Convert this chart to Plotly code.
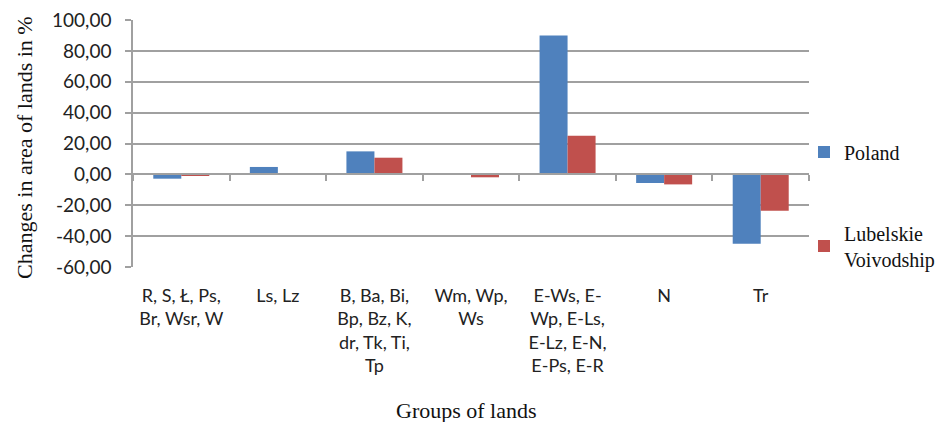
import plotly.graph_objects as go

categories = [
    "R, S, Ł, Ps,<br>Br, Wsr, W",
    "Ls, Lz",
    "B, Ba, Bi,<br>Bp, Bz, K,<br>dr, Tk, Ti,<br>Tp",
    "Wm, Wp,<br>Ws",
    "E-Ws, E-<br>Wp, E-Ls,<br>E-Lz, E-N,<br>E-Ps, E-R",
    "N",
    "Tr",
]
poland = [-2.8, 4.8, 14.9, 0.2, 90.0, -5.6, -44.9]
lubelskie = [-0.8, 0.8, 10.8, -1.9, 25.0, -6.5, -23.5]
series_names = ["Poland", "Lubelskie<br>Voivodship"]
y_ticks = [-60, -40, -20, 0, 20, 40, 60, 80, 100]
y_ticktext = [f"{v:.2f}".replace(".", ",") for v in y_ticks]

BLUE = "#4F81BD"
RED = "#C0504D"
GRID = "#A0A0A0"
YMIN, YMAX = -60, 100

xs = list(range(len(categories)))
bounds = [i - 0.5 for i in range(len(categories) + 1)]

fig = go.Figure()
fig.add_trace(go.Bar(x=xs, y=poland, name=series_names[0], marker_color=BLUE,
                     marker_line_width=0, legend="legend"))
fig.add_trace(go.Bar(x=xs, y=lubelskie, name=series_names[1], marker_color=RED,
                     marker_line_width=0, legend="legend2"))
# helper trace so the zero-line category axis is drawn
fig.add_trace(go.Scatter(x=[None], y=[None], xaxis="x2", showlegend=False,
                         hoverinfo="skip"))

zero_pos = (0 - YMIN) / (YMAX - YMIN)

legend_font = dict(family="Liberation Serif", size=20, color="#111")
title_font = dict(family="Liberation Serif", size=22, color="#111")
fig.update_layout(
    width=942, height=422,
    margin=dict(l=133, r=133, t=20, b=155, autoexpand=False),
    paper_bgcolor="white", plot_bgcolor="white",
    barmode="group", bargap=0.42, bargroupgap=0,
    font=dict(family="Lato", size=18, color="#222"),
    xaxis=dict(range=[-0.5, len(categories) - 0.5], tickmode="array",
               tickvals=xs, ticktext=categories, showgrid=False,
               showline=False, ticks="", zeroline=False, automargin=False,
               ticklabelstandoff=16,
               tickfont=dict(family="Lato", size=18, color="#222")),
    xaxis2=dict(overlaying="x", range=[-0.5, len(categories) - 0.5],
                anchor="free", position=zero_pos, side="bottom",
                tickmode="array", tickvals=bounds, ticks="outside",
                ticklen=6, tickwidth=1.5, tickcolor=GRID, automargin=False,
                showticklabels=False, showline=True, linecolor=GRID,
                linewidth=1.5, showgrid=False, zeroline=False),
    yaxis=dict(range=[YMIN - 0.01, YMAX + 0.01], tickmode="array",
               tickvals=y_ticks, ticktext=y_ticktext, showgrid=True,
               gridcolor=GRID, gridwidth=1.5, showline=True, automargin=False,
               linecolor=GRID, linewidth=1.5, ticks="outside", ticklen=6,
               tickwidth=1.5, tickcolor=GRID, zeroline=False,
               ticklabelstandoff=10,
               tickfont=dict(family="Lato", size=19, color="#222")),
    legend=dict(x=804 / 942, y=1 - 152 / 422, xref="container",
                yref="container", xanchor="left", yanchor="middle",
                font=legend_font, bgcolor="rgba(0,0,0,0)", itemwidth=30),
    legend2=dict(x=804 / 942, y=1 - 246 / 422, xref="container",
                 yref="container", xanchor="left", yanchor="middle",
                 font=legend_font, bgcolor="rgba(0,0,0,0)", itemwidth=30),
    annotations=[
        dict(text="Changes in area of lands in %", textangle=-90,
             xref="paper", yref="paper", x=-(133 - 24) / 676,
             y=(267 - 148) / 247,
             xanchor="center", yanchor="middle", showarrow=False,
             font=title_font),
        dict(text="Groups of lands", xref="paper", yref="paper",
             x=(466 - 133) / 676, y=-(410 - 267) / 247, xanchor="center",
             yanchor="middle", showarrow=False, font=title_font),
    ],
)

fig.write_html("out.html", config={"displayModeBar": False},
               post_script="document.body.style.margin='0';"
                           "document.body.style.padding='0';")
